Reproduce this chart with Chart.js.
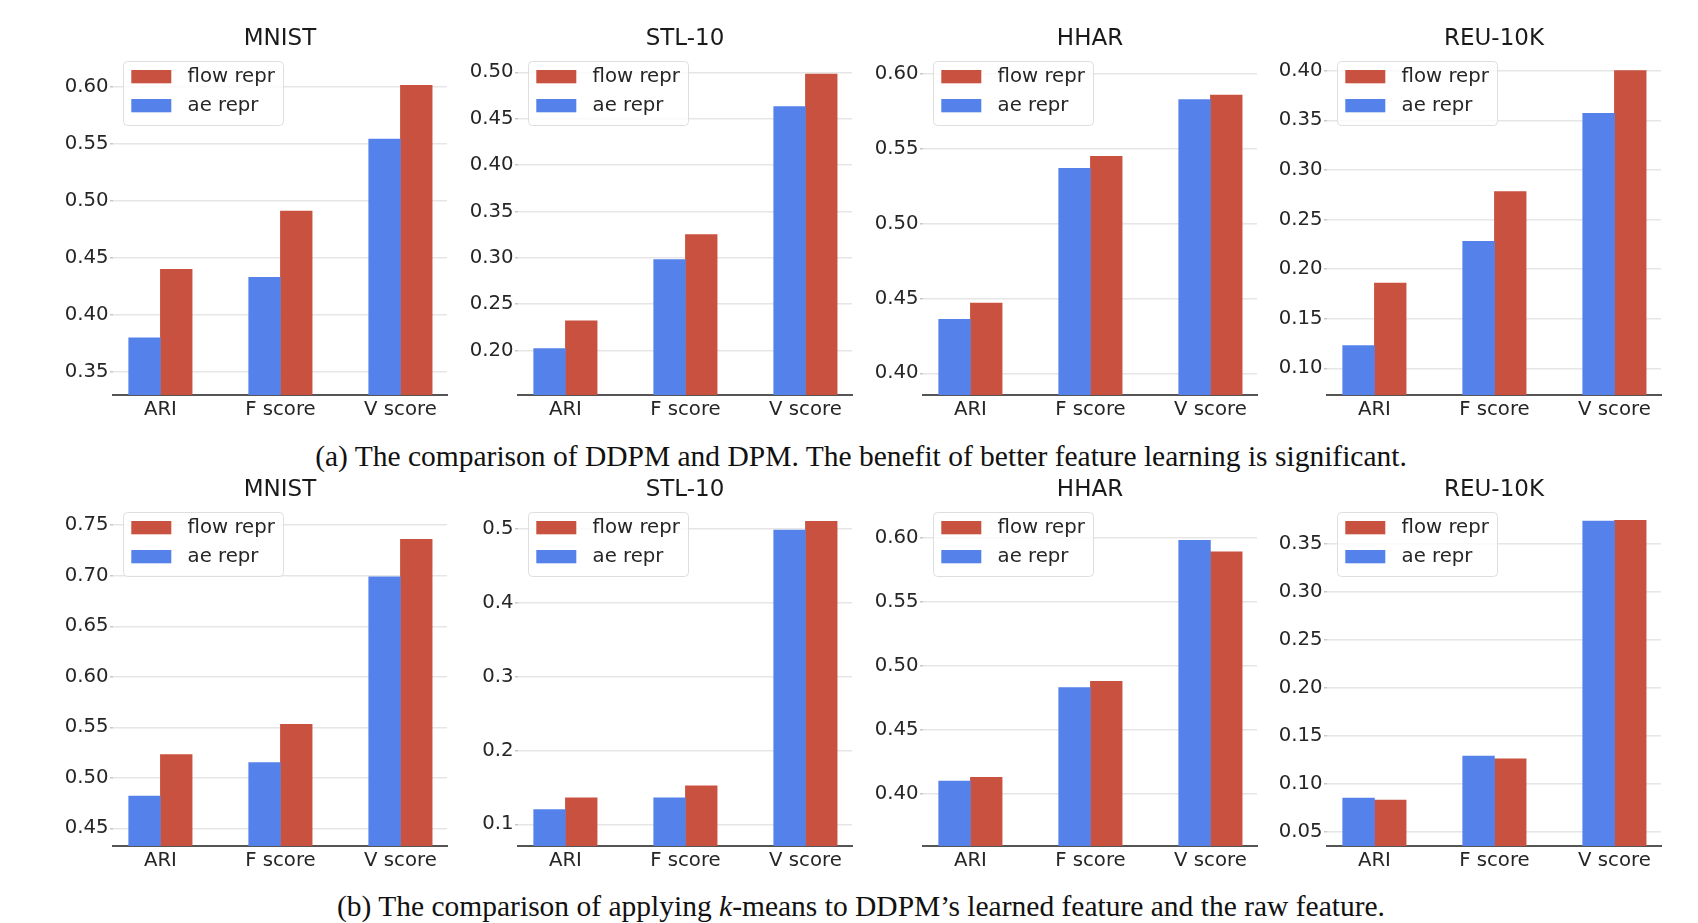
<!DOCTYPE html>
<html>
<head>
<meta charset="utf-8">
<script src="https://cdn.jsdelivr.net/npm/chart.js@4.4.1/dist/chart.umd.min.js"></script>
<style>
  html, body { margin: 0; padding: 0; background: #fff; }
  body { width: 1698px; height: 923px; position: relative; overflow: hidden; }
  canvas { position: absolute; }
  .caption {
    position: absolute; left: 861px; transform: translateX(-50%);
    font-family: "Liberation Serif", serif; font-size: 29.5px; line-height: 29.5px;
    color: #111; white-space: nowrap;
  }
</style>
</head>
<body>
<div class="caption" style="top:442px">(a) The comparison of DDPM and DPM. The benefit of better feature learning is significant.</div>
<div class="caption" style="top:892px">(b) The comparison of applying <i>k</i>-means to DDPM’s learned feature and the raw feature.</div>
<script>
// Data
const categories = ['ARI', 'F score', 'V score'];
const datasetNames = ['MNIST', 'STL-10', 'HHAR', 'REU-10K'];
const seriesLabels = ['ae repr', 'flow repr'];

// (a) DDPM vs DPM
const aeTop   = [[0.380, 0.433, 0.554], [0.202, 0.298, 0.463], [0.436, 0.537, 0.583], [0.123, 0.228, 0.357]];
const flowTop = [[0.440, 0.491, 0.601], [0.232, 0.325, 0.498], [0.447, 0.545, 0.586], [0.186, 0.278, 0.400]];
// (b) k-means on learned vs raw feature
const aeBottom   = [[0.482, 0.515, 0.699], [0.120, 0.136, 0.498], [0.410, 0.483, 0.598], [0.085, 0.129, 0.374]];
const flowBottom = [[0.523, 0.553, 0.736], [0.136, 0.152, 0.510], [0.413, 0.488, 0.589], [0.083, 0.126, 0.375]];

// axis ranges and tick steps
const yMinTop = [0.330, 0.152, 0.3855, 0.0731];
const yMaxTop = [0.631, 0.523, 0.6154, 0.4198];
const yMinBottom = [0.4325, 0.0707, 0.3594, 0.0351];
const yMaxBottom = [0.773, 0.536, 0.628, 0.394];
const stepTop = [0.05, 0.05, 0.05, 0.05];
const stepBottom = [0.05, 0.1, 0.05, 0.05];
const decimalsTop = [2, 2, 2, 2];
const decimalsBottom = [2, 1, 2, 2];

const BLUE = '#5582EA';
const RED = '#C9513F';
const plotLefts = [112.7, 518.3, 922.7, 1327.3];
const PLOT_W = 334;
const Y_AXIS_W = 80;
const X_AXIS_H = 40;
const FONT = '"DejaVu Sans", sans-serif';

// legend drawn inside the plot area with a frame, like matplotlib's
const boxLegend = {
  id: 'boxLegend',
  afterDraw(chart) {
    const { ctx, chartArea } = chart;
    const x = chartArea.left + 10, y = chartArea.top + 10;
    ctx.save();
    ctx.beginPath();
    ctx.roundRect(x + 0.5, y + 0.5, 160, 64, 4);
    ctx.fillStyle = 'rgba(255,255,255,0.8)';
    ctx.fill();
    ctx.strokeStyle = '#dedede';
    ctx.lineWidth = 1;
    ctx.stroke();
    const items = chart.data.datasets.slice().reverse();
    items.forEach((ds, k) => {
      const rowY = y + 9 + k * 29;
      ctx.fillStyle = ds.backgroundColor;
      ctx.fillRect(x + 8.3, rowY, 40, 13.3);
      ctx.fillStyle = '#262626';
      ctx.font = '19.7px ' + FONT;
      ctx.textBaseline = 'middle';
      ctx.fillText(ds.label, x + 64.6, rowY + 6.7);
    });
    ctx.restore();
  }
};

function makePanel(col, rowTop, title, ae, flow, yMin, yMax, step, decimals) {
  const canvas = document.createElement('canvas');
  const w = Y_AXIS_W + PLOT_W + 5;
  const h = 395 + X_AXIS_H;
  canvas.width = w;
  canvas.height = h;
  canvas.style.left = (plotLefts[col] - Y_AXIS_W) + 'px';
  canvas.style.top = rowTop + 'px';
  canvas.style.width = w + 'px';
  canvas.style.height = h + 'px';
  document.body.appendChild(canvas);

  new Chart(canvas.getContext('2d'), {
    type: 'bar',
    data: {
      datasets: [
        { label: seriesLabels[0], data: ae.map((v, i) => ({ x: i, y: v })), backgroundColor: BLUE },
        { label: seriesLabels[1], data: flow.map((v, i) => ({ x: i, y: v })), backgroundColor: RED }
      ]
    },
    options: {
      responsive: false,
      animation: false,
      devicePixelRatio: 1,
      barThickness: 31.7,
      base: yMin,
      clip: 0,
      layout: { padding: { left: 0, right: 5, top: 0, bottom: 0 } },
      plugins: {
        legend: { display: false },
        tooltip: { enabled: false },
        title: {
          display: true,
          text: title,
          fullSize: false,
          color: '#1a1a1a',
          font: { family: FONT, size: 23, lineHeight: 1, weight: 'normal' },
          padding: { top: 27.5, bottom: 0.5 }
        }
      },
      scales: {
        x: {
          type: 'linear',
          offset: false,
          min: -0.395,
          max: 2.388,
          afterBuildTicks: s => { s.ticks = categories.map((c, i) => ({ value: i })); },
          afterFit: s => { s.height = X_AXIS_H; },
          grid: { display: false, drawTicks: false },
          border: { display: true, color: '#555', width: 2 },
          ticks: {
            autoSkip: false, maxRotation: 0, padding: 3,
            color: '#262626', font: { family: FONT, size: 19.7 },
            callback: v => categories[v]
          }
        },
        y: {
          min: yMin,
          max: yMax,
          afterFit: s => { s.width = Y_AXIS_W; },
          grid: { color: '#e6e6e6', lineWidth: 1.5, tickLength: 3, tickColor: '#c8c8c8' },
          border: { display: false },
          ticks: {
            stepSize: step, includeBounds: false, padding: 1.5,
            color: '#262626', font: { family: FONT, size: 19.7 },
            callback: v => v.toFixed(decimals)
          }
        }
      }
    },
    plugins: [boxLegend]
  });
}

for (let c = 0; c < 4; c++) {
  makePanel(c, 0, datasetNames[c], aeTop[c], flowTop[c], yMinTop[c], yMaxTop[c], stepTop[c], decimalsTop[c]);
  makePanel(c, 451, datasetNames[c], aeBottom[c], flowBottom[c], yMinBottom[c], yMaxBottom[c], stepBottom[c], decimalsBottom[c]);
}
</script>
</body>
</html>
